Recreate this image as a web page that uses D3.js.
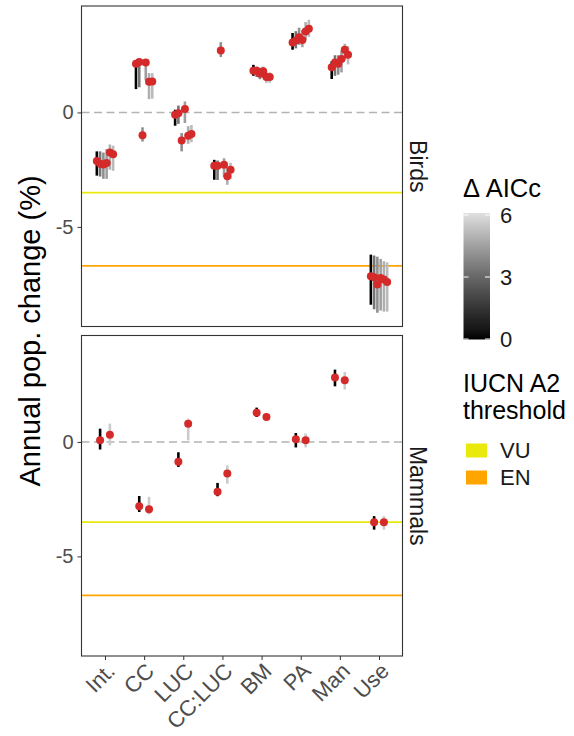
<!DOCTYPE html>
<html>
<head>
<meta charset="utf-8">
<script src="https://cdn.jsdelivr.net/npm/d3@7"></script>
<style>
  body { margin: 0; background: #fff; }
  text { font-family: "Liberation Sans", Arial, sans-serif; }
</style>
</head>
<body>
<div class="container"></div>
<script>
// categories (model terms)
const categories = ['Int.', 'CC', 'LUC', 'CC:LUC', 'BM', 'PA', 'Man', 'Use']
const panels = ['Birds', 'Mammals']

// delta AICc of each model, by taxon
const birdDelta = [0, 3.3, 4.0, 4.4, 4.8, 5.1]
const mammalDelta = [0, 5.5]

// birds: estimate / lower / upper, one row per category, one value per model
const birdEst = [
  [-2.12, -2.24, -2.27, -2.21, -1.75, -1.83],
  [2.13, 2.2, -1.0, 2.18, 1.34, 1.35],
  [-0.1, -0.03, -1.22, 0.15, -1.02, -0.94],
  [-2.33, -2.33, 2.71, -2.28, -2.79, -2.5],
  [1.82, 1.82, 1.69, 1.8, 1.55, 1.55],
  [3.06, 3.14, 3.29, 3.17, 3.54, 3.66],
  [1.97, 2.18, 2.13, 2.33, 2.74, 2.52],
  [-7.16, -7.2, -7.52, -7.23, -7.3, -7.41]
]
const birdLo = [
  [-2.76, -2.8, -2.9, -2.9, -2.5, -2.55],
  [1.02, 1.1, -1.27, 1.4, 0.58, 0.6],
  [-0.58, -0.5, -1.7, -0.46, -1.37, -1.3],
  [-2.94, -2.95, 2.42, -2.8, -3.16, -2.9],
  [1.6, 1.55, 1.45, 1.5, 1.3, 1.3],
  [2.74, 2.8, 2.95, 2.85, 3.15, 3.3],
  [1.46, 1.6, 1.65, 1.75, 2.3, 2.1],
  [-8.4, -8.6, -8.75, -8.65, -8.7, -8.7]
]
const birdHi = [
  [-1.7, -1.7, -1.75, -1.6, -1.4, -1.45],
  [2.23, 2.3, -0.65, 2.3, 1.72, 1.72],
  [0.12, 0.3, -0.9, 0.48, -0.6, -0.55],
  [-2.07, -2.1, 3.07, -2.0, -2.43, -2.2],
  [2.08, 2.0, 1.95, 2.0, 1.75, 1.75],
  [3.47, 3.55, 3.7, 3.6, 3.95, 4.05],
  [2.23, 2.5, 2.5, 2.7, 3.0, 2.9],
  [-6.21, -6.25, -6.3, -6.4, -6.5, -6.55]
]

// mammals
const mammalEst = [
  [0.07, 0.31], [-2.81, -2.94], [-0.86, 0.79], [-2.17, -1.38],
  [1.28, 1.09], [0.12, 0.07], [2.81, 2.69], [-3.51, -3.51]
]
const mammalLo = [
  [-0.33, -0.15], [-3.06, -3.16], [-1.09, 0.07], [-2.37, -1.82],
  [1.09, 1.0], [-0.24, -0.24], [2.43, 2.29], [-3.83, -3.83]
]
const mammalHi = [
  [0.58, 0.8], [-2.36, -2.4], [-0.45, 1.02], [-1.79, -1.02],
  [1.5, 1.2], [0.39, 0.37], [3.16, 3.06], [-3.24, -3.24]
]

// IUCN A2 thresholds
const thresholds = [{name: 'VU', value: -3.5}, {name: 'EN', value: -6.7}]
const yTicks = [-5, 0]
const deltaTicks = [0, 3, 6]

const svg = d3.select('.container').append('svg').attr('width', 574).attr('height', 736)

const left = 81.5, right = 402.5
const panelBox = [[6, 326.5], [335.5, 656]]
const threshColor = d3.scaleOrdinal().domain(['VU', 'EN']).range(['#e9e90c', '#ffa500'])
const grey = d3.scaleLinear().domain([0, 6]).range(['#000000', '#e0e0e0']).interpolate(d3.interpolateLab)

const x = d3.scalePoint().domain(categories).range([left, right]).padding(0.6)

const taxa = [
  {est: birdEst, lo: birdLo, hi: birdHi, delta: birdDelta},
  {est: mammalEst, lo: mammalLo, hi: mammalHi, delta: mammalDelta}
]

taxa.forEach((t, p) => {
  const [top, bottom] = panelBox[p]
  const y = d3.scaleLinear().domain([-9.35, 4.65]).range([bottom, top])
  const g = svg.append('g')
  const n = t.delta.length
  const dodge = 0.5 * x.step() / n

  var rows = []
  categories.forEach((c, i) => {
    t.est[i].forEach((v, m) => {
      rows.push({c: c, m: m, v: v, lo: t.lo[i][m], hi: t.hi[i][m], d: t.delta[m]})
    })
  })
  const px = d => x(d.c) + (d.m - (n - 1) / 2) * dodge

  // zero line
  g.append('line')
    .attr('x1', left).attr('x2', right)
    .attr('y1', y(0)).attr('y2', y(0))
    .attr('stroke', '#b3b3b3').attr('stroke-width', 1.5)
    .attr('stroke-dasharray', '8,4.5')

  g.selectAll('.thr').data(thresholds).enter().append('line')
    .attr('x1', left).attr('x2', right)
    .attr('y1', d => y(d.value)).attr('y2', d => y(d.value))
    .attr('stroke', d => threshColor(d.name)).attr('stroke-width', 1.6)

  g.selectAll('.bar').data(rows).enter().append('line')
    .attr('x1', px).attr('x2', px)
    .attr('y1', d => y(d.lo)).attr('y2', d => y(d.hi))
    .attr('stroke', d => grey(d.d)).attr('stroke-width', 2.6)

  g.selectAll('.pt').data(rows).enter().append('circle')
    .attr('cx', px).attr('cy', d => y(d.v)).attr('r', 4)
    .attr('fill', '#d42a2a')

  g.append('rect')
    .attr('x', left).attr('y', top).attr('width', right - left).attr('height', bottom - top)
    .attr('fill', 'none').attr('stroke', '#333').attr('stroke-width', 1.1)

  const ya = g.append('g').attr('transform', `translate(${left},0)`)
    .call(d3.axisLeft(y).tickValues(yTicks).tickSize(4).tickPadding(4).tickFormat(d3.format('d')))
  ya.select('.domain').remove()
  ya.selectAll('line').attr('stroke', '#333')
  ya.selectAll('text').attr('fill', '#4d4d4d').style('font-size', '20px')
    .text(d => d < 0 ? '-' + Math.abs(d) : d)

  svg.append('text')
    .attr('transform', `translate(410,${(top + bottom) / 2}) rotate(90)`)
    .attr('text-anchor', 'middle')
    .style('font-size', '23px').attr('fill', '#1a1a1a')
    .text(panels[p])
})

// x axis
const xa = svg.append('g').attr('transform', `translate(0,${panelBox[1][1]})`)
  .call(d3.axisBottom(x).tickSize(4).tickFormat(''))
xa.select('.domain').remove()
xa.selectAll('line').attr('stroke', '#333')
svg.append('g').selectAll('text').data(categories).enter().append('text')
  .attr('transform', d => `translate(${x(d) + 6},${667}) rotate(-45)`)
  .attr('text-anchor', 'end').attr('dy', '0.35em')
  .attr('fill', '#4d4d4d').style('font-size', '22px')
  .text(d => d)

svg.append('text')
  .attr('transform', `translate(30,331) rotate(-90)`)
  .attr('text-anchor', 'middle').attr('dy', '0.35em')
  .style('font-size', '29px')
  .text('Annual pop. change (%)')

// legend: delta AICc colourbar
const leg = svg.append('g')
leg.append('text').attr('x', 463).attr('y', 197).style('font-size', '25.5px').text('\u0394 AICc')
const defs = svg.append('defs')
const grad = defs.append('linearGradient').attr('id', 'gbar')
  .attr('x1', 0).attr('x2', 0).attr('y1', 1).attr('y2', 0)
d3.range(0, 6.01, 0.5).forEach(v => {
  grad.append('stop').attr('offset', v / 6).attr('stop-color', grey(v))
})
const cb = d3.scaleLinear().domain([0, 6]).range([339, 215])
leg.append('rect').attr('x', 463.5).attr('y', 213).attr('width', 26.5).attr('height', 126.5)
  .attr('fill', 'url(#gbar)')
deltaTicks.forEach(v => {
  leg.append('line').attr('x1', 463.5).attr('x2', 468.5).attr('y1', cb(v)).attr('y2', cb(v))
    .attr('stroke', '#fff').attr('stroke-width', 1)
  leg.append('line').attr('x1', 485).attr('x2', 490).attr('y1', cb(v)).attr('y2', cb(v))
    .attr('stroke', '#fff').attr('stroke-width', 1)
  leg.append('text').attr('x', 500).attr('y', cb(v)).attr('dy', '0.36em')
    .style('font-size', '22px').attr('fill', '#1a1a1a').text(v)
})

// legend: IUCN thresholds
leg.append('text').attr('x', 463).attr('y', 392).style('font-size', '25px').text('IUCN A2')
leg.append('text').attr('x', 463).attr('y', 419).style('font-size', '25px').text('threshold')
thresholds.forEach((d, i) => {
  const yy = 443.5 + i * 27
  leg.append('rect').attr('x', 466).attr('y', yy).attr('width', 21).attr('height', 14)
    .attr('fill', threshColor(d.name))
  leg.append('text').attr('x', 500).attr('y', yy + 7).attr('dy', '0.36em')
    .style('font-size', '22px').attr('fill', '#1a1a1a').text(d.name)
})
</script>
</body>
</html>
